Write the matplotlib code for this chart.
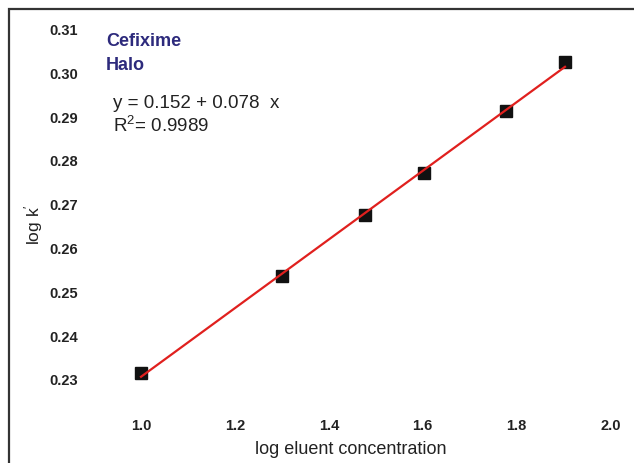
import numpy as np
from matplotlib import pyplot as plt
from matplotlib.patches import Rectangle

# log eluent concentration vs log k'
log_conc = [1.000, 1.301, 1.477, 1.602, 1.778, 1.903]
log_k = [0.2316, 0.2537, 0.2677, 0.2773, 0.2914, 0.3026]
x_ticks = [1.0, 1.2, 1.4, 1.6, 1.8, 2.0]
x_tick_labels = ['1.0', '1.2', '1.4', '1.6', '1.8', '2.0']
y_ticks = [0.23, 0.24, 0.25, 0.26, 0.27, 0.28, 0.29, 0.30, 0.31]
y_tick_labels = ['0.23', '0.24', '0.25', '0.26', '0.27', '0.28', '0.29', '0.30', '0.31']

plt.rcParams['font.family'] = ['Liberation Sans', 'DejaVu Sans']
plt.rcParams['mathtext.fontset'] = 'custom'
plt.rcParams['mathtext.rm'] = 'Liberation Sans'
plt.rcParams['mathtext.it'] = 'Liberation Sans'

fig = plt.figure(figsize=(6.34, 4.63), dpi=100)
ax = fig.add_axes([0.1336, 0.132, 0.8664, 0.823])

# regression line
slope, intercept = np.polyfit(log_conc, log_k, 1)
xs = np.array([log_conc[0], log_conc[-1]])
ax.plot(xs, intercept + slope * xs, color='#e0201e', lw=1.6, zorder=3)
ax.plot(log_conc, log_k, 's', color='#111111', markersize=9, zorder=2)

ax.set_xlim(0.88, 2.05)
ax.set_ylim(0.225, 0.312)
ax.set_xticks(x_ticks)
ax.set_xticklabels(x_tick_labels, fontsize=10.5, fontweight='bold', color='#222222')
ax.set_yticks(y_ticks)
ax.set_yticklabels(y_tick_labels, fontsize=10.5, fontweight='bold', color='#222222')
ax.tick_params(axis='both', length=0)
ax.tick_params(axis='y', pad=5)
ax.tick_params(axis='x', pad=12)
for s in ax.spines.values():
    s.set_visible(False)
ax.patch.set_alpha(0)

fig.text(34 / 634, 1 - 225 / 463, "log k$^{\\prime}$", rotation=90, fontsize=12.5,
         ha='center', va='center', color='#222222')
fig.text(351 / 634, 1 - 450 / 463, 'log eluent concentration', fontsize=13,
         ha='center', va='center', color='#222222')

fig.text(106 / 634, 1 - 42 / 463, 'Cefixime', fontsize=13, fontweight='bold',
         color='#2d2a7c', ha='left', va='center')
fig.text(106 / 634, 1 - 66 / 463, 'Halo', fontsize=13, fontweight='bold',
         color='#2d2a7c', ha='left', va='center')
fig.text(113 / 634, 1 - 103 / 463, 'y = 0.152 + 0.078  x', fontsize=13.5,
         color='#222222', ha='left', va='center')
fig.text(113 / 634, 1 - 126 / 463, 'R$^2$= 0.9989', fontsize=13.5,
         color='#222222', ha='left', va='center')

# outer frame (right/bottom edges fall outside the picture)
fig.patches.append(Rectangle((9 / 634, -0.05), 1.1, 1 - 9 / 463 + 0.05,
                             transform=fig.transFigure, fill=False,
                             edgecolor='#333333', lw=1.6))

fig.savefig('out.png', dpi=100)
plt.close(fig)
